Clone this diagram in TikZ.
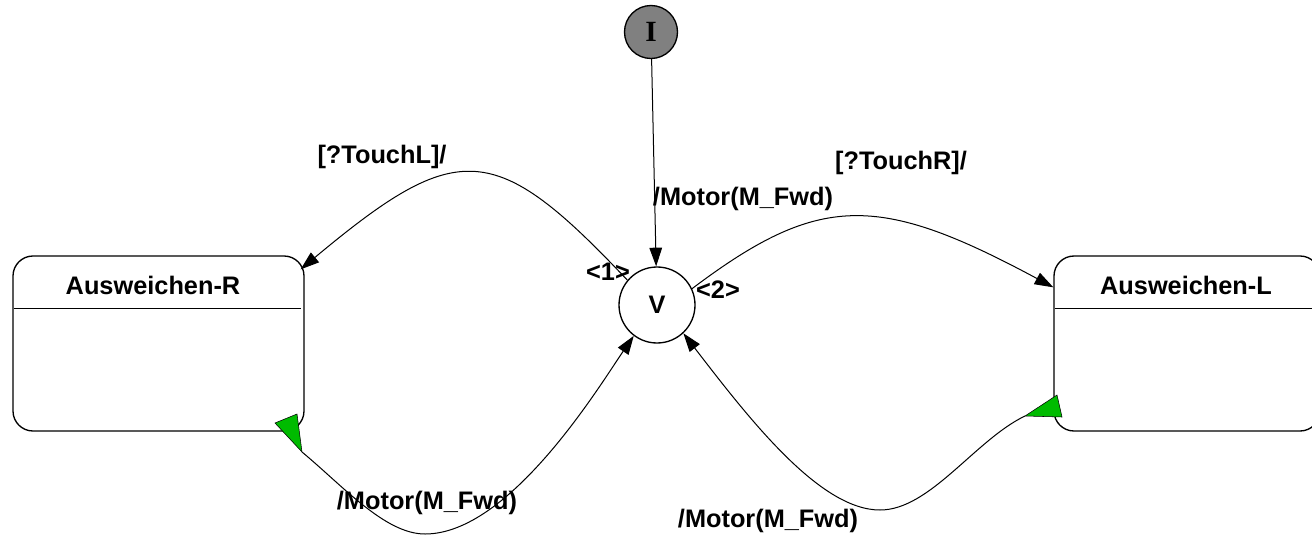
\documentclass[tikz,border=0pt]{standalone}
\usepackage{fontspec}
\setmainfont{Liberation Sans}
\newfontfamily\serifb{Liberation Serif}
\usetikzlibrary{arrows.meta}
\definecolor{mkgreen}{RGB}{0,187,0}
\definecolor{initgray}{RGB}{128,128,128}
\begin{document}
\begin{tikzpicture}[x=0.75pt,y=-0.75pt,
  lbl/.style={inner sep=0pt, font=\fontsize{19pt}{22pt}\selectfont\bfseries},
  statebox/.style={draw, line width=1pt, rounded corners=15pt, minimum height=131.25pt, inner sep=0pt},
  conn/.style={line width=0.75pt, -{Triangle[length=14pt,width=9.5pt]}},
  startmark/.style={fill=mkgreen, draw=black, line width=0.4pt},
  divider/.style={line width=1pt}]
\useasboundingbox (0,0) rectangle (1312,535);
\clip (0,0) rectangle (1312,535);
% states
\node[statebox, minimum width=218.25pt] (R) at (158.5,343.5) {};
\node[statebox, minimum width=199.5pt] (L) at (1187,343.5) {};
\draw[divider] ([xshift=1.5pt,yshift=-39.75pt]R.north west) -- ([xshift=-3pt,yshift=-39.75pt]R.north east);
\draw[divider] ([xshift=1.5pt,yshift=-39.75pt]L.north west) -- ([yshift=-39.75pt]L.north east);
\node[lbl] (Rt) at (153,285) {Ausweichen-R};
\node[lbl] (Lt) at (1186,285) {Ausweichen-L};
% pseudo states
\node[circle, draw, line width=1pt, minimum size=57pt, inner sep=0pt, lbl] (V) at (657,305) {V};
\node[circle, draw, line width=1pt, fill=initgray, minimum size=39.75pt, inner sep=0pt,
      font=\serifb\bfseries\fontsize{22pt}{24pt}\selectfont] (I) at (651,32) {I};
% start marks
\coordinate (gR) at (302,452);
\coordinate (gL) at (1025,416);
% connectors
\draw[conn] (I) -- (V);
\draw[conn] (V.140) .. controls (495,140) and (458,138) .. ([xshift=-3pt,yshift=-10.5pt]R.north east);
\draw[conn] (V.25) .. controls (819,193) and (878,193) .. ([yshift=-24pt]L.north west);
\draw[conn] (gR) .. controls (343,486) and (385,534) .. (425,534) .. controls (510,534) and (600,385) .. (V.233);
\draw[conn] (gL) .. controls (975,440) and (930,510) .. (880,510) .. controls (820,510) and (750,420) .. (V.313);
\path[startmark] (275,423) -- (297,414) -- (gR) -- cycle;
\path[startmark] (1057,395) -- (1062,417) -- (gL) -- cycle;
% labels
\node[lbl] (lTL) at (382,157) {[?TouchL]/};
\node[lbl] (lTR) at (901,163) {[?TouchR]/};
\node[lbl] (lIV) at (743,199) {/Motor(M\_Fwd)};
\node[lbl] (lBL) at (427,503) {/Motor(M\_Fwd)};
\node[lbl] (lBR) at (768,521) {/Motor(M\_Fwd)};
\node[lbl] (p1) at (608,272) {<1>};
\node[lbl] (p2) at (718,290) {<2>};
\end{tikzpicture}
\end{document}
